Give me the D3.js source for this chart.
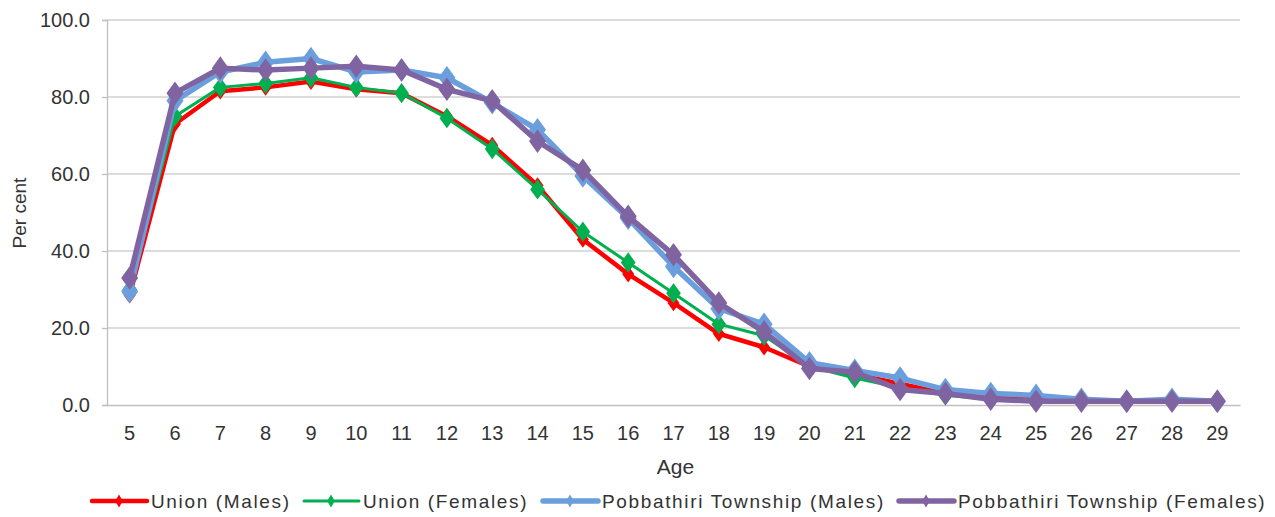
<!DOCTYPE html>
<html>
<head>
<meta charset="utf-8">
<script src="https://cdn.jsdelivr.net/npm/d3@7"></script>
<style>
  body { margin: 0; background: #fff; }
  svg { font-family: "Liberation Sans", Arial, sans-serif; }
</style>
</head>
<body>
<svg id="chart" width="1275" height="517"></svg>
<script>
const ages = [5,6,7,8,9,10,11,12,13,14,15,16,17,18,19,20,21,22,23,24,25,26,27,28,29];
const unionMales = [28.5,73,81.5,82.5,84,82,81,75,67.5,57,43,34,26.5,18.5,15,10,8,5.5,3,2,1.5,1.2,1,1,1];
const unionFemales = [30,75,82.5,83.5,85,82.5,81,74.5,66.5,56,45,37,29,21,18,10,7,4.5,2.5,1.5,1,1,0.8,0.8,0.8];
const pobMales = [29.5,79,86.5,89,90,86.5,87,85,78.5,71.5,59.5,48.5,36,25,21,11,9,7,4,3,2.5,1.5,1,1.5,1];
const pobFemales = [33,81,87.5,87,87.5,88,87,82,79,68.5,61,49,39,26.5,19,9.5,8.5,4,3,1.5,1,1,1,1,1];
const yTicks = [0,20,40,60,80,100];
const seriesNames = ["Union (Males)","Union (Females)","Pobbathiri Township (Males)","Pobbathiri Township (Females)"];

(function () {
const series = [
  {name: seriesNames[0], values: unionMales, color: "#FF0000", width: 4.5, msize: 80},
  {name: seriesNames[1], values: unionFemales, color: "#00B050", width: 3, msize: 120},
  {name: seriesNames[2], values: pobMales, color: "#6A9EDC", width: 5.5, msize: 160},
  {name: seriesNames[3], values: pobFemales, color: "#8064A2", width: 5.5, msize: 160}
];

const svg = d3.select("#chart");
const mLeft = 107, mRight = 1240, mTop = 20, mBottom = 405;

const x = d3.scaleBand().domain(ages).range([mLeft, mRight]);
const y = d3.scaleLinear().domain([0, 100]).range([mBottom, mTop]);

// gridlines
svg.append("g").selectAll("line").data(yTicks.filter(d => d > 0)).join("line")
  .attr("x1", mLeft).attr("x2", mRight)
  .attr("y1", d => y(d)).attr("y2", d => y(d))
  .attr("stroke", "#D0D0D0").attr("stroke-width", 1.3);

// y axis
const yAxis = svg.append("g").attr("transform", `translate(${mLeft},0)`)
  .call(d3.axisLeft(y).tickValues(yTicks).tickFormat(d3.format(".1f")).tickSize(5).tickPadding(12));
yAxis.select(".domain").attr("stroke", "#BFBFBF").attr("stroke-width", 1.3);
yAxis.selectAll(".tick line").attr("stroke", "#BFBFBF").attr("stroke-width", 1.3);
yAxis.selectAll(".tick text").attr("font-size", 20).attr("fill", "#333").attr("font-family", "Liberation Sans, Arial, sans-serif");

// x axis
const xAxis = svg.append("g").attr("transform", `translate(0,${mBottom})`)
  .call(d3.axisBottom(x).tickSize(0).tickPadding(21));
xAxis.select(".domain").attr("stroke", "#BFBFBF").attr("stroke-width", 1.3);
xAxis.selectAll(".tick text").attr("font-size", 20).attr("fill", "#333").attr("font-family", "Liberation Sans, Arial, sans-serif");

// axis titles
svg.append("text").attr("transform", "translate(26,213) rotate(-90)")
  .attr("text-anchor", "middle").attr("font-size", 19).attr("fill", "#333").text("Per cent");
svg.append("text").attr("x", (mLeft + mRight) / 2 + 2).attr("y", 474)
  .attr("text-anchor", "middle").attr("font-size", 21).attr("fill", "#333").text("Age");

// lines
const cx = d => x(d) + x.bandwidth() / 2;
const line = d3.line().x((v, i) => cx(ages[i])).y(v => y(v));

series.forEach(s => {
  const g = svg.append("g");
  g.append("path").datum(s.values).attr("d", line)
    .attr("fill", "none").attr("stroke", s.color).attr("stroke-width", s.width)
    .attr("stroke-linejoin", "round");
  g.selectAll("path.m").data(s.values).join("path").attr("class", "m")
    .attr("d", d3.symbol().type(d3.symbolDiamond).size(s.msize)())
    .attr("transform", (v, i) => `translate(${cx(ages[i])},${y(v)}) scale(1.25,1)`)
    .attr("fill", s.color);
});

// legend
const legendX = [92, 304, 543, 899];
const lg = svg.append("g");
series.forEach((s, i) => {
  const lx = legendX[i], ly = 501;
  lg.append("line").attr("x1", lx).attr("x2", lx + 55).attr("y1", ly).attr("y2", ly)
    .attr("stroke", s.color).attr("stroke-width", s.width).attr("stroke-linecap", "round");
  lg.append("path").attr("d", d3.symbol().type(d3.symbolDiamond).size(50)())
    .attr("transform", `translate(${lx + 27},${ly})`).attr("fill", s.color);
  lg.append("text").attr("x", lx + 59).attr("y", ly + 7).attr("font-size", 19)
    .attr("letter-spacing", 1.65).attr("fill", "#333").text(s.name);
});
})();
</script>
</body>
</html>
